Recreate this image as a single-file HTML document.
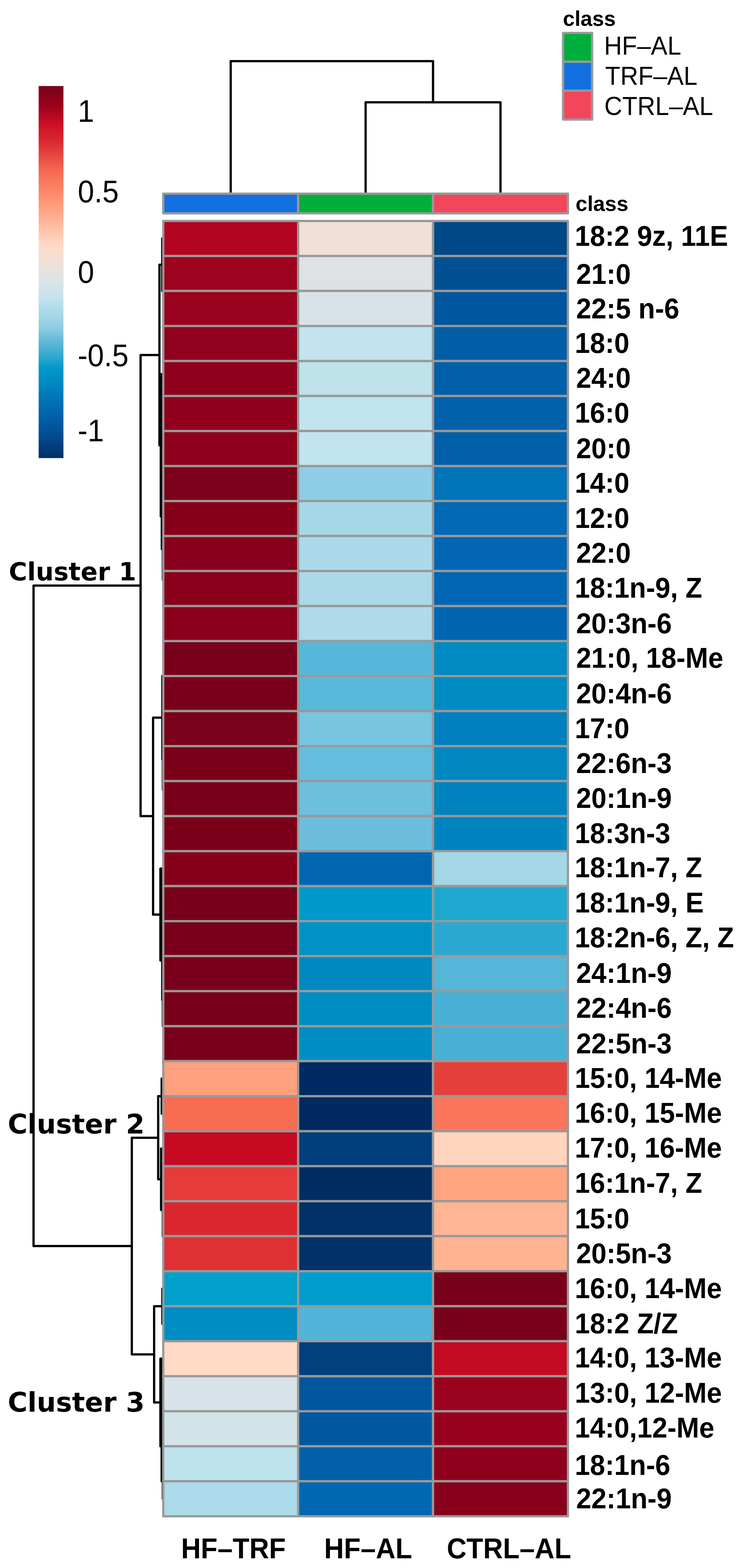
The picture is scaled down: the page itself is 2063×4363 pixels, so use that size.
<!DOCTYPE html>
<html lang="en"><head><meta charset="utf-8"><title>Heatmap</title>
<style>
html,body{margin:0;padding:0;background:#fff;}
body{width:2063px;height:4363px;overflow:hidden;}
svg{display:block;}
rect{stroke-linejoin:round;}
text{font-family:"Liberation Sans",sans-serif;fill:#000;}
.b{font-weight:bold;}
.cl{font-family:"DejaVu Sans",sans-serif;font-weight:bold;}
.d{fill:none;stroke:#000;stroke-width:6.25;stroke-linejoin:round;stroke-linecap:round;}
</style></head><body>
<svg width="2063" height="4363" viewBox="0 0 2063 4363">
<rect x="0" y="0" width="2063" height="4363" fill="#ffffff"/>
<defs><linearGradient id="cb" x1="0" y1="0" x2="0" y2="1">
<stop offset="0.00%" stop-color="#7A001A"/>
<stop offset="3.00%" stop-color="#8B001B"/>
<stop offset="6.30%" stop-color="#A5021F"/>
<stop offset="10.30%" stop-color="#CC1026"/>
<stop offset="14.40%" stop-color="#D92630"/>
<stop offset="18.40%" stop-color="#E54540"/>
<stop offset="22.50%" stop-color="#F4674F"/>
<stop offset="26.50%" stop-color="#FA7C62"/>
<stop offset="30.60%" stop-color="#FD9474"/>
<stop offset="34.60%" stop-color="#FEAB8D"/>
<stop offset="38.70%" stop-color="#FEC3A9"/>
<stop offset="42.70%" stop-color="#FDD9C6"/>
<stop offset="46.80%" stop-color="#F3E0D6"/>
<stop offset="50.00%" stop-color="#E6E1DF"/>
<stop offset="52.80%" stop-color="#D9E4E8"/>
<stop offset="56.90%" stop-color="#C3E3EE"/>
<stop offset="60.90%" stop-color="#A9D9E9"/>
<stop offset="65.00%" stop-color="#8ECCE3"/>
<stop offset="69.00%" stop-color="#5DB7D6"/>
<stop offset="73.10%" stop-color="#2BA6CD"/>
<stop offset="75.90%" stop-color="#0099C9"/>
<stop offset="79.00%" stop-color="#008CC3"/>
<stop offset="83.20%" stop-color="#0079B9"/>
<stop offset="87.20%" stop-color="#0068B0"/>
<stop offset="91.30%" stop-color="#01579F"/>
<stop offset="95.30%" stop-color="#01468A"/>
<stop offset="100.00%" stop-color="#012E66"/>
</linearGradient></defs>
<rect x="107.6" y="239.4" width="69.0" height="1035.2" fill="url(#cb)"/>
<text transform="translate(216.5 338.6) scale(0.985 1.05)" font-size="83.3">1</text>
<text transform="translate(216.5 562.6) scale(0.985 1.05)" font-size="83.3">0.5</text>
<text transform="translate(216.5 786.6) scale(0.985 1.05)" font-size="83.3">0</text>
<text transform="translate(216.5 1018.6) scale(0.985 1.05)" font-size="83.3">-0.5</text>
<text transform="translate(216.5 1227.6) scale(0.985 1.05)" font-size="83.3">-1</text>
<path class="d" d="M642.3 534 V170.0 H1205.6 V284.6"/>
<path class="d" d="M1017.9 534 V284.6 H1393.4 V534"/>
<g class="d">
<path d="M455.0 663.6 H451.7 V809.7 H455.0"/>
<path d="M455.0 1345.5 H450.5 V1528.1 H455.0"/>
<path d="M455.0 1041.1 H447.6 V1436.8 H450.5"/>
<path d="M451.7 736.7 H443.9 V1238.9 H447.6"/>
<path d="M455.0 1881.2 H452.0 V2112.5 H455.0"/>
<path d="M455.0 2563.1 H451.7 V2782.2 H455.0"/>
<path d="M455.0 2416.9 H446.6 V2672.6 H451.7"/>
<path d="M452.0 1996.9 H426.2 V2544.8 H446.6"/>
<path d="M443.9 987.8 H391.4 V2270.8 H426.2"/>
<path d="M455.0 3001.4 H450.1 V3098.8 H455.0"/>
<path d="M455.0 3196.2 H448.5 V3366.7 H455.0"/>
<path d="M450.1 3050.1 H440.4 V3281.4 H448.5"/>
<path d="M455.0 3585.8 H452.0 V3683.3 H455.0"/>
<path d="M455.0 3926.8 H450.1 V4121.6 H455.0"/>
<path d="M455.0 3780.7 H446.6 V4024.2 H450.1"/>
<path d="M452.0 3634.6 H429.1 V3902.4 H446.6"/>
<path d="M440.4 3165.8 H367.0 V3768.5 H429.1"/>
<path d="M391.4 1629.3 H93.4 V3467.1 H367.0"/>
<path d="M450.2 1041.1 V1436.8"/>
<path d="M449.2 2416.9 V2672.6"/>
<path d="M451.1 3196.2 V3366.7"/>
<path d="M449.2 3780.7 V4024.2"/>
<path d="M453.3 2709.2 V2855.3"/>
<path d="M453.3 3293.6 V3439.7"/>
<path d="M453.3 4072.9 V4170.3"/>
<path d="M453.3 2027.3 V2197.8"/>
<path d="M453.3 1442.9 V1613.3"/>
</g>
<rect x="454.50" y="538.8" width="375.57" height="54.80" fill="#1370E0" stroke="#999999" stroke-width="6.25"/>
<rect x="830.07" y="538.8" width="375.57" height="54.80" fill="#00AE3C" stroke="#999999" stroke-width="6.25"/>
<rect x="1205.63" y="538.8" width="375.57" height="54.80" fill="#F4465A" stroke="#999999" stroke-width="6.25"/>
<rect x="454.50" y="614.90" width="375.57" height="97.41" fill="#B30421" stroke="#999999" stroke-width="6.25"/>
<rect x="830.07" y="614.90" width="375.57" height="97.41" fill="#F1E0D6" stroke="#999999" stroke-width="6.25"/>
<rect x="1205.63" y="614.90" width="375.57" height="97.41" fill="#014888" stroke="#999999" stroke-width="6.25"/>
<rect x="454.50" y="712.31" width="375.57" height="97.41" fill="#9D021E" stroke="#999999" stroke-width="6.25"/>
<rect x="830.07" y="712.31" width="375.57" height="97.41" fill="#DEE2E4" stroke="#999999" stroke-width="6.25"/>
<rect x="1205.63" y="712.31" width="375.57" height="97.41" fill="#015094" stroke="#999999" stroke-width="6.25"/>
<rect x="454.50" y="809.72" width="375.57" height="97.41" fill="#9B021E" stroke="#999999" stroke-width="6.25"/>
<rect x="830.07" y="809.72" width="375.57" height="97.41" fill="#D9E3E7" stroke="#999999" stroke-width="6.25"/>
<rect x="1205.63" y="809.72" width="375.57" height="97.41" fill="#01569E" stroke="#999999" stroke-width="6.25"/>
<rect x="454.50" y="907.12" width="375.57" height="97.41" fill="#91001D" stroke="#999999" stroke-width="6.25"/>
<rect x="830.07" y="907.12" width="375.57" height="97.41" fill="#C3E3EE" stroke="#999999" stroke-width="6.25"/>
<rect x="1205.63" y="907.12" width="375.57" height="97.41" fill="#015EA6" stroke="#999999" stroke-width="6.25"/>
<rect x="454.50" y="1004.53" width="375.57" height="97.41" fill="#8F001C" stroke="#999999" stroke-width="6.25"/>
<rect x="830.07" y="1004.53" width="375.57" height="97.41" fill="#BFE2EB" stroke="#999999" stroke-width="6.25"/>
<rect x="1205.63" y="1004.53" width="375.57" height="97.41" fill="#0160A8" stroke="#999999" stroke-width="6.25"/>
<rect x="454.50" y="1101.94" width="375.57" height="97.41" fill="#90001C" stroke="#999999" stroke-width="6.25"/>
<rect x="830.07" y="1101.94" width="375.57" height="97.41" fill="#C1E3EE" stroke="#999999" stroke-width="6.25"/>
<rect x="1205.63" y="1101.94" width="375.57" height="97.41" fill="#0161A9" stroke="#999999" stroke-width="6.25"/>
<rect x="454.50" y="1199.35" width="375.57" height="97.41" fill="#8E001C" stroke="#999999" stroke-width="6.25"/>
<rect x="830.07" y="1199.35" width="375.57" height="97.41" fill="#C2E4EF" stroke="#999999" stroke-width="6.25"/>
<rect x="1205.63" y="1199.35" width="375.57" height="97.41" fill="#0160A8" stroke="#999999" stroke-width="6.25"/>
<rect x="454.50" y="1296.76" width="375.57" height="97.41" fill="#7C0019" stroke="#999999" stroke-width="6.25"/>
<rect x="830.07" y="1296.76" width="375.57" height="97.41" fill="#8FCDE6" stroke="#999999" stroke-width="6.25"/>
<rect x="1205.63" y="1296.76" width="375.57" height="97.41" fill="#0173B8" stroke="#999999" stroke-width="6.25"/>
<rect x="454.50" y="1394.16" width="375.57" height="97.41" fill="#87001A" stroke="#999999" stroke-width="6.25"/>
<rect x="830.07" y="1394.16" width="375.57" height="97.41" fill="#A5D8E7" stroke="#999999" stroke-width="6.25"/>
<rect x="1205.63" y="1394.16" width="375.57" height="97.41" fill="#0168B6" stroke="#999999" stroke-width="6.25"/>
<rect x="454.50" y="1491.57" width="375.57" height="97.41" fill="#88001B" stroke="#999999" stroke-width="6.25"/>
<rect x="830.07" y="1491.57" width="375.57" height="97.41" fill="#ACD9E9" stroke="#999999" stroke-width="6.25"/>
<rect x="1205.63" y="1491.57" width="375.57" height="97.41" fill="#0066B4" stroke="#999999" stroke-width="6.25"/>
<rect x="454.50" y="1588.98" width="375.57" height="97.41" fill="#8A001B" stroke="#999999" stroke-width="6.25"/>
<rect x="830.07" y="1588.98" width="375.57" height="97.41" fill="#ABD9E8" stroke="#999999" stroke-width="6.25"/>
<rect x="1205.63" y="1588.98" width="375.57" height="97.41" fill="#0066B3" stroke="#999999" stroke-width="6.25"/>
<rect x="454.50" y="1686.39" width="375.57" height="97.41" fill="#8A001B" stroke="#999999" stroke-width="6.25"/>
<rect x="830.07" y="1686.39" width="375.57" height="97.41" fill="#AEDAE9" stroke="#999999" stroke-width="6.25"/>
<rect x="1205.63" y="1686.39" width="375.57" height="97.41" fill="#0065B1" stroke="#999999" stroke-width="6.25"/>
<rect x="454.50" y="1783.80" width="375.57" height="97.41" fill="#79001A" stroke="#999999" stroke-width="6.25"/>
<rect x="830.07" y="1783.80" width="375.57" height="97.41" fill="#57B7D9" stroke="#999999" stroke-width="6.25"/>
<rect x="1205.63" y="1783.80" width="375.57" height="97.41" fill="#008AC1" stroke="#999999" stroke-width="6.25"/>
<rect x="454.50" y="1881.21" width="375.57" height="97.41" fill="#79001A" stroke="#999999" stroke-width="6.25"/>
<rect x="830.07" y="1881.21" width="375.57" height="97.41" fill="#59B8DA" stroke="#999999" stroke-width="6.25"/>
<rect x="1205.63" y="1881.21" width="375.57" height="97.41" fill="#008BC2" stroke="#999999" stroke-width="6.25"/>
<rect x="454.50" y="1978.61" width="375.57" height="97.41" fill="#7B001A" stroke="#999999" stroke-width="6.25"/>
<rect x="830.07" y="1978.61" width="375.57" height="97.41" fill="#78C5E1" stroke="#999999" stroke-width="6.25"/>
<rect x="1205.63" y="1978.61" width="375.57" height="97.41" fill="#0080BE" stroke="#999999" stroke-width="6.25"/>
<rect x="454.50" y="2076.02" width="375.57" height="97.41" fill="#7A001A" stroke="#999999" stroke-width="6.25"/>
<rect x="830.07" y="2076.02" width="375.57" height="97.41" fill="#66BCDC" stroke="#999999" stroke-width="6.25"/>
<rect x="1205.63" y="2076.02" width="375.57" height="97.41" fill="#0087C0" stroke="#999999" stroke-width="6.25"/>
<rect x="454.50" y="2173.43" width="375.57" height="97.41" fill="#7A001A" stroke="#999999" stroke-width="6.25"/>
<rect x="830.07" y="2173.43" width="375.57" height="97.41" fill="#6EBEDD" stroke="#999999" stroke-width="6.25"/>
<rect x="1205.63" y="2173.43" width="375.57" height="97.41" fill="#0083BE" stroke="#999999" stroke-width="6.25"/>
<rect x="454.50" y="2270.84" width="375.57" height="97.41" fill="#7A001A" stroke="#999999" stroke-width="6.25"/>
<rect x="830.07" y="2270.84" width="375.57" height="97.41" fill="#6DBDDC" stroke="#999999" stroke-width="6.25"/>
<rect x="1205.63" y="2270.84" width="375.57" height="97.41" fill="#0084BF" stroke="#999999" stroke-width="6.25"/>
<rect x="454.50" y="2368.25" width="375.57" height="97.41" fill="#87001A" stroke="#999999" stroke-width="6.25"/>
<rect x="830.07" y="2368.25" width="375.57" height="97.41" fill="#0066B2" stroke="#999999" stroke-width="6.25"/>
<rect x="1205.63" y="2368.25" width="375.57" height="97.41" fill="#A3D7E6" stroke="#999999" stroke-width="6.25"/>
<rect x="454.50" y="2465.65" width="375.57" height="97.41" fill="#79001A" stroke="#999999" stroke-width="6.25"/>
<rect x="830.07" y="2465.65" width="375.57" height="97.41" fill="#0099CA" stroke="#999999" stroke-width="6.25"/>
<rect x="1205.63" y="2465.65" width="375.57" height="97.41" fill="#1FA8CF" stroke="#999999" stroke-width="6.25"/>
<rect x="454.50" y="2563.06" width="375.57" height="97.41" fill="#79001A" stroke="#999999" stroke-width="6.25"/>
<rect x="830.07" y="2563.06" width="375.57" height="97.41" fill="#0092C6" stroke="#999999" stroke-width="6.25"/>
<rect x="1205.63" y="2563.06" width="375.57" height="97.41" fill="#2BA8D2" stroke="#999999" stroke-width="6.25"/>
<rect x="454.50" y="2660.47" width="375.57" height="97.41" fill="#79001A" stroke="#999999" stroke-width="6.25"/>
<rect x="830.07" y="2660.47" width="375.57" height="97.41" fill="#0088C1" stroke="#999999" stroke-width="6.25"/>
<rect x="1205.63" y="2660.47" width="375.57" height="97.41" fill="#55B6D8" stroke="#999999" stroke-width="6.25"/>
<rect x="454.50" y="2757.88" width="375.57" height="97.41" fill="#79001A" stroke="#999999" stroke-width="6.25"/>
<rect x="830.07" y="2757.88" width="375.57" height="97.41" fill="#008DC3" stroke="#999999" stroke-width="6.25"/>
<rect x="1205.63" y="2757.88" width="375.57" height="97.41" fill="#49B0D5" stroke="#999999" stroke-width="6.25"/>
<rect x="454.50" y="2855.29" width="375.57" height="97.41" fill="#79001A" stroke="#999999" stroke-width="6.25"/>
<rect x="830.07" y="2855.29" width="375.57" height="97.41" fill="#008EC4" stroke="#999999" stroke-width="6.25"/>
<rect x="1205.63" y="2855.29" width="375.57" height="97.41" fill="#49B0D5" stroke="#999999" stroke-width="6.25"/>
<rect x="454.50" y="2952.69" width="375.57" height="97.41" fill="#FFA07F" stroke="#999999" stroke-width="6.25"/>
<rect x="830.07" y="2952.69" width="375.57" height="97.41" fill="#002B62" stroke="#999999" stroke-width="6.25"/>
<rect x="1205.63" y="2952.69" width="375.57" height="97.41" fill="#E5403C" stroke="#999999" stroke-width="6.25"/>
<rect x="454.50" y="3050.10" width="375.57" height="97.41" fill="#F86C52" stroke="#999999" stroke-width="6.25"/>
<rect x="830.07" y="3050.10" width="375.57" height="97.41" fill="#002A60" stroke="#999999" stroke-width="6.25"/>
<rect x="1205.63" y="3050.10" width="375.57" height="97.41" fill="#FB765C" stroke="#999999" stroke-width="6.25"/>
<rect x="454.50" y="3147.51" width="375.57" height="97.41" fill="#C60A22" stroke="#999999" stroke-width="6.25"/>
<rect x="830.07" y="3147.51" width="375.57" height="97.41" fill="#013E7C" stroke="#999999" stroke-width="6.25"/>
<rect x="1205.63" y="3147.51" width="375.57" height="97.41" fill="#FFD5BF" stroke="#999999" stroke-width="6.25"/>
<rect x="454.50" y="3244.92" width="375.57" height="97.41" fill="#E63B3A" stroke="#999999" stroke-width="6.25"/>
<rect x="830.07" y="3244.92" width="375.57" height="97.41" fill="#012D63" stroke="#999999" stroke-width="6.25"/>
<rect x="1205.63" y="3244.92" width="375.57" height="97.41" fill="#FFA481" stroke="#999999" stroke-width="6.25"/>
<rect x="454.50" y="3342.33" width="375.57" height="97.41" fill="#DB262E" stroke="#999999" stroke-width="6.25"/>
<rect x="830.07" y="3342.33" width="375.57" height="97.41" fill="#013167" stroke="#999999" stroke-width="6.25"/>
<rect x="1205.63" y="3342.33" width="375.57" height="97.41" fill="#FFB595" stroke="#999999" stroke-width="6.25"/>
<rect x="454.50" y="3439.74" width="375.57" height="97.41" fill="#DF3034" stroke="#999999" stroke-width="6.25"/>
<rect x="830.07" y="3439.74" width="375.57" height="97.41" fill="#013167" stroke="#999999" stroke-width="6.25"/>
<rect x="1205.63" y="3439.74" width="375.57" height="97.41" fill="#FFB391" stroke="#999999" stroke-width="6.25"/>
<rect x="454.50" y="3537.14" width="375.57" height="97.41" fill="#00A0CB" stroke="#999999" stroke-width="6.25"/>
<rect x="830.07" y="3537.14" width="375.57" height="97.41" fill="#009DCC" stroke="#999999" stroke-width="6.25"/>
<rect x="1205.63" y="3537.14" width="375.57" height="97.41" fill="#79001A" stroke="#999999" stroke-width="6.25"/>
<rect x="454.50" y="3634.55" width="375.57" height="97.41" fill="#008DC3" stroke="#999999" stroke-width="6.25"/>
<rect x="830.07" y="3634.55" width="375.57" height="97.41" fill="#52B4D8" stroke="#999999" stroke-width="6.25"/>
<rect x="1205.63" y="3634.55" width="375.57" height="97.41" fill="#79001A" stroke="#999999" stroke-width="6.25"/>
<rect x="454.50" y="3731.96" width="375.57" height="97.41" fill="#FFDAC5" stroke="#999999" stroke-width="6.25"/>
<rect x="830.07" y="3731.96" width="375.57" height="97.41" fill="#013F7D" stroke="#999999" stroke-width="6.25"/>
<rect x="1205.63" y="3731.96" width="375.57" height="97.41" fill="#C40A23" stroke="#999999" stroke-width="6.25"/>
<rect x="454.50" y="3829.37" width="375.57" height="97.41" fill="#D7E3E8" stroke="#999999" stroke-width="6.25"/>
<rect x="830.07" y="3829.37" width="375.57" height="97.41" fill="#01569E" stroke="#999999" stroke-width="6.25"/>
<rect x="1205.63" y="3829.37" width="375.57" height="97.41" fill="#9B021E" stroke="#999999" stroke-width="6.25"/>
<rect x="454.50" y="3926.78" width="375.57" height="97.41" fill="#D3E4E9" stroke="#999999" stroke-width="6.25"/>
<rect x="830.07" y="3926.78" width="375.57" height="97.41" fill="#01589F" stroke="#999999" stroke-width="6.25"/>
<rect x="1205.63" y="3926.78" width="375.57" height="97.41" fill="#98011D" stroke="#999999" stroke-width="6.25"/>
<rect x="454.50" y="4024.18" width="375.57" height="97.41" fill="#BEE3EC" stroke="#999999" stroke-width="6.25"/>
<rect x="830.07" y="4024.18" width="375.57" height="97.41" fill="#0160A8" stroke="#999999" stroke-width="6.25"/>
<rect x="1205.63" y="4024.18" width="375.57" height="97.41" fill="#8E001C" stroke="#999999" stroke-width="6.25"/>
<rect x="454.50" y="4121.59" width="375.57" height="97.41" fill="#ABDAEA" stroke="#999999" stroke-width="6.25"/>
<rect x="830.07" y="4121.59" width="375.57" height="97.41" fill="#0067B3" stroke="#999999" stroke-width="6.25"/>
<rect x="1205.63" y="4121.59" width="375.57" height="97.41" fill="#88001B" stroke="#999999" stroke-width="6.25"/>
<text class="b" x="1602.5" y="586.6" font-size="58.7">class</text>
<g class="b" font-size="76">
<text transform="translate(1600.2 683.9) scale(1 1.04)">18:2 9z, 11E</text>
<text transform="translate(1604.1 790.4) scale(1 1.04)">21:0</text>
<text transform="translate(1604.1 885.8) scale(1 1.04)">22:5 n-6</text>
<text transform="translate(1600.2 982.0) scale(1 1.04)">18:0</text>
<text transform="translate(1604.1 1079.4) scale(1 1.04)">24:0</text>
<text transform="translate(1600.2 1176.1) scale(1 1.04)">16:0</text>
<text transform="translate(1604.1 1275.0) scale(1 1.04)">20:0</text>
<text transform="translate(1600.2 1371.3) scale(1 1.04)">14:0</text>
<text transform="translate(1600.2 1469.1) scale(1 1.04)">12:0</text>
<text transform="translate(1604.1 1566.2) scale(1 1.04)">22:0</text>
<text transform="translate(1600.2 1662.5) scale(1 1.04)">18:1n-9, Z</text>
<text transform="translate(1604.1 1761.6) scale(1 1.04)">20:3n-6</text>
<text transform="translate(1604.1 1857.5) scale(1 1.04)">21:0, 18-Me</text>
<text transform="translate(1604.1 1956.5) scale(1 1.04)">20:4n-6</text>
<text transform="translate(1600.2 2053.6) scale(1 1.04)">17:0</text>
<text transform="translate(1604.1 2150.7) scale(1 1.04)">22:6n-3</text>
<text transform="translate(1604.1 2247.7) scale(1 1.04)">20:1n-9</text>
<text transform="translate(1600.2 2345.9) scale(1 1.04)">18:3n-3</text>
<text transform="translate(1600.2 2441.2) scale(1 1.04)">18:1n-7, Z</text>
<text transform="translate(1600.2 2539.0) scale(1 1.04)">18:1n-9, E</text>
<text transform="translate(1600.2 2636.1) scale(1 1.04)">18:2n-6, Z, Z</text>
<text transform="translate(1604.1 2735.2) scale(1 1.04)">24:1n-9</text>
<text transform="translate(1604.1 2832.2) scale(1 1.04)">22:4n-6</text>
<text transform="translate(1604.1 2930.5) scale(1 1.04)">22:5n-3</text>
<text transform="translate(1600.2 3026.8) scale(1 1.04)">15:0, 14-Me</text>
<text transform="translate(1600.2 3123.9) scale(1 1.04)">16:0, 15-Me</text>
<text transform="translate(1600.2 3221.0) scale(1 1.04)">17:0, 16-Me</text>
<text transform="translate(1600.2 3318.7) scale(1 1.04)">16:1n-7, Z</text>
<text transform="translate(1600.2 3417.8) scale(1 1.04)">15:0</text>
<text transform="translate(1604.1 3514.9) scale(1 1.04)">20:5n-3</text>
<text transform="translate(1600.2 3612.0) scale(1 1.04)">16:0, 14-Me</text>
<text transform="translate(1600.2 3709.9) scale(1 1.04)">18:2 Z/Z</text>
<text transform="translate(1600.2 3805.1) scale(1 1.04)">14:0, 13-Me</text>
<text transform="translate(1600.2 3902.5) scale(1 1.04)">13:0, 12-Me</text>
<text transform="translate(1600.2 3999.5) scale(1 1.04)">14:0,12-Me</text>
<text transform="translate(1600.2 4104.0) scale(1 1.04)">18:1n-6</text>
<text transform="translate(1604.1 4197.2) scale(1 1.04)">22:1n-9</text>
</g>
<g class="b" font-size="76">
<text transform="translate(504.2 4336.0) scale(1 1.04)">HF–TRF</text>
<text transform="translate(902.6 4336.0) scale(1 1.04)">HF–AL</text>
<text transform="translate(1244.0 4336.0) scale(1 1.04)">CTRL–AL</text>
</g>
<text class="b" x="1567.3" y="71.5" font-size="58.7">class</text>
<rect x="1567.6" y="91.5" width="80.90000000000009" height="80.4" fill="#00AE3C" stroke="#999999" stroke-width="6.25"/>
<text transform="translate(1681.8 152.4) scale(1 1.04)" font-size="69">HF–AL</text>
<rect x="1567.6" y="171.9" width="80.90000000000009" height="80.4" fill="#1370E0" stroke="#999999" stroke-width="6.25"/>
<text transform="translate(1684.8 236.1) scale(1 1.04)" font-size="69">TRF–AL</text>
<rect x="1567.6" y="252.3" width="80.90000000000009" height="80.39999999999998" fill="#F4465A" stroke="#999999" stroke-width="6.25"/>
<text transform="translate(1682.6 320.3) scale(1 1.04)" font-size="69">CTRL–AL</text>
<text class="cl" x="24.5" y="1615.3" font-size="69.9">Cluster 1</text>
<text class="cl" x="21.4" y="3153.5" font-size="75.1">Cluster 2</text>
<text class="cl" x="21.4" y="3928.2" font-size="75.1">Cluster 3</text>
</svg>
</body></html>
